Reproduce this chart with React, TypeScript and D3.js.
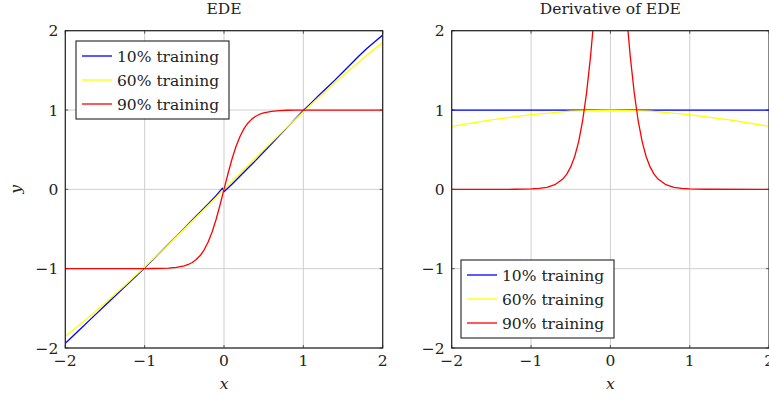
import React from "react";
import * as d3 from "d3";

const xTicks = [-2, -1, 0, 1, 2];
const yTicks = [-2, -1, 0, 1, 2];
const seriesNames = ["10% training", "60% training", "90% training"];
const seriesColors = ["#0000ff", "#ffff00", "#ff0000"];

// EDE curves
const blueX = [-2, -1.9, -1.8, -1.7, -1.6, -1.5, -1.4, -1.3, -1.2, -1.1, -1, -0.9, -0.8, -0.7, -0.6, -0.5, -0.4, -0.3, -0.2, -0.1, -0.02, 0, 0.1, 0.2, 0.3, 0.4, 0.5, 0.6, 0.7, 0.8, 0.9, 1, 1.1, 1.2, 1.3, 1.4, 1.5, 1.6, 1.7, 1.8, 1.9, 2];
const blueY = [-1.94, -1.845, -1.75, -1.655, -1.56, -1.465, -1.37, -1.275, -1.18, -1.085, -0.99, -0.89, -0.79, -0.69, -0.59, -0.49, -0.385, -0.285, -0.185, -0.08, 0.015, -0.03, 0.065, 0.165, 0.265, 0.365, 0.47, 0.575, 0.68, 0.785, 0.89, 0.995, 1.09, 1.19, 1.285, 1.38, 1.48, 1.58, 1.68, 1.775, 1.86, 1.945];

const yellowX = [-2, -1.75, -1.5, -1.25, -1, -0.75, -0.5, -0.25, 0, 0.25, 0.5, 0.75, 1, 1.25, 1.5, 1.75, 2];
const yellowY = [-1.853, -1.649, -1.436, -1.212, -0.98, -0.741, -0.497, -0.25, 0, 0.25, 0.497, 0.741, 0.98, 1.212, 1.436, 1.649, 1.853];

const redX = [-2, -1.2, -1, -0.9, -0.8, -0.7, -0.6, -0.5, -0.45, -0.4, -0.35, -0.3, -0.25, -0.2, -0.15, -0.1, -0.05, 0, 0.05, 0.1, 0.15, 0.2, 0.25, 0.3, 0.35, 0.4, 0.45, 0.5, 0.6, 0.7, 0.8, 0.9, 1, 1.2, 2];
const redY = [-1, -1, -0.999, -0.998, -0.997, -0.993, -0.984, -0.964, -0.947, -0.922, -0.885, -0.834, -0.762, -0.664, -0.537, -0.38, -0.197, 0, 0.197, 0.38, 0.537, 0.664, 0.762, 0.834, 0.885, 0.922, 0.947, 0.964, 0.984, 0.993, 0.997, 0.998, 0.999, 1, 1];

// Derivative curves
const dBlueX = [-2, 2];
const dBlueY = [1, 1];

const dYellowX = [-2, -1.5, -1, -0.5, 0, 0.5, 1, 1.5, 2];
const dYellowY = [0.794, 0.876, 0.942, 0.985, 1, 0.985, 0.942, 0.876, 0.794];

const dRedX = [-2, -1.2, -1, -0.9, -0.8, -0.7, -0.6, -0.55, -0.5, -0.45, -0.4, -0.35, -0.3, -0.25, -0.2, -0.15, -0.1, -0.05, 0, 0.05, 0.1, 0.15, 0.2, 0.25, 0.3, 0.35, 0.4, 0.45, 0.5, 0.55, 0.6, 0.7, 0.8, 0.9, 1, 1.2, 2];
const dRedY = [0, 0.001, 0.005, 0.012, 0.026, 0.059, 0.13, 0.192, 0.283, 0.414, 0.602, 0.865, 1.22, 1.68, 2.24, 2.85, 3.42, 3.84, 4, 3.84, 3.42, 2.85, 2.24, 1.68, 1.22, 0.865, 0.602, 0.414, 0.283, 0.192, 0.13, 0.059, 0.026, 0.012, 0.005, 0.001, 0];

const FONT = "DejaVu Serif";
const FS = 15.5;

type Series = { xs: number[]; ys: number[] };

function Panel({ id, left, title, series, legendPos, showYLabel }: {
  id: string;
  left: number;
  title: string;
  series: Series[];
  legendPos: { x: number; y: number };
  showYLabel: boolean;
}) {
  const top = 30.7;
  const w = 317.4;
  const h = 317.3;
  const x = d3.scaleLinear().domain([-2, 2]).range([left, left + w]);
  const y = d3.scaleLinear().domain([-2, 2]).range([top + h, top]);
  const line = d3.line<[number, number]>().x((d) => x(d[0])).y((d) => y(d[1]));

  const rowH = 24;
  return (
    <g>
      <defs>
        <clipPath id={id}>
          <rect x={left} y={top} width={w} height={h} />
        </clipPath>
      </defs>
      {xTicks.map((t) => (
        <line key={"gx" + t} x1={x(t)} x2={x(t)} y1={top} y2={top + h} stroke="#cfcfcf" strokeWidth={1} />
      ))}
      {yTicks.map((t) => (
        <line key={"gy" + t} x1={left} x2={left + w} y1={y(t)} y2={y(t)} stroke="#cfcfcf" strokeWidth={1} />
      ))}
      {xTicks.map((t) => (
        <g key={"tx" + t}>
          <line x1={x(t)} x2={x(t)} y1={top + h} y2={top + h - 3} stroke="#555" />
          <line x1={x(t)} x2={x(t)} y1={top} y2={top + 3} stroke="#555" />
        </g>
      ))}
      {yTicks.map((t) => (
        <g key={"ty" + t}>
          <line x1={left} x2={left + 3} y1={y(t)} y2={y(t)} stroke="#555" />
          <line x1={left + w} x2={left + w - 3} y1={y(t)} y2={y(t)} stroke="#555" />
        </g>
      ))}
      <g clipPath={`url(#${id})`}>
        {series.map((s, i) => (
          <path
            key={i}
            d={line(s.xs.map((v, j) => [v, s.ys[j]] as [number, number])) || ""}
            fill="none"
            stroke={seriesColors[i]}
            strokeWidth={1.3}
            strokeLinejoin="round"
          />
        ))}
      </g>
      <rect x={left} y={top} width={w} height={h} fill="none" stroke="#222" strokeWidth={1.2} />
      {xTicks.map((t) => (
        <text key={"lx" + t} x={x(t)} y={366} textAnchor="middle" fontFamily={FONT} fontSize={FS} fill="#222">
          {t < 0 ? "\u2212" + Math.abs(t) : t}
        </text>
      ))}
      {yTicks.map((t) => (
        <text key={"ly" + t} x={left - 7} y={y(t)} dy="0.36em" textAnchor="end" fontFamily={FONT} fontSize={FS} fill="#222">
          {t < 0 ? "\u2212" + Math.abs(t) : t}
        </text>
      ))}
      <text x={left + w / 2} y={14} textAnchor="middle" fontFamily={FONT} fontSize={FS} fill="#222">
        {title}
      </text>
      <text x={left + w / 2} y={389} textAnchor="middle" fontFamily={FONT} fontStyle="italic" fontSize={FS} fill="#222">
        x
      </text>
      {showYLabel && (
        <text
          transform={`translate(21,${top + h / 2}) rotate(-90)`}
          textAnchor="middle"
          fontFamily={FONT}
          fontStyle="italic"
          fontSize={FS}
          fill="#222"
        >
          y
        </text>
      )}
      <g transform={`translate(${legendPos.x},${legendPos.y})`}>
        <rect x={0} y={0} width={153} height={78} fill="white" stroke="#222" strokeWidth={1.1} />
        {seriesNames.map((name, i) => (
          <g key={name} transform={`translate(0,${15 + i * rowH})`}>
            <line x1={6} x2={36} y1={0} y2={0} stroke={seriesColors[i]} strokeWidth={1.3} />
            <text x={41} y={0} dy="0.36em" fontFamily={FONT} fontSize={FS} fill="#222">
              {name}
            </text>
          </g>
        ))}
      </g>
    </g>
  );
}

export default function App() {
  const edeSeries: Series[] = [
    { xs: blueX, ys: blueY },
    { xs: yellowX, ys: yellowY },
    { xs: redX, ys: redY },
  ];
  const derivSeries: Series[] = [
    { xs: dBlueX, ys: dBlueY },
    { xs: dYellowX, ys: dYellowY },
    { xs: dRedX, ys: dRedY },
  ];
  return (
    <div style={{ position: "absolute", left: 0, top: 0 }}>
      <svg width={769} height={398} style={{ display: "block", background: "white" }}>
        <Panel id="clipA" left={65.3} title="EDE" series={edeSeries} legendPos={{ x: 76, y: 41 }} showYLabel={true} />
        <Panel id="clipB" left={451.7} title="Derivative of EDE" series={derivSeries} legendPos={{ x: 461, y: 260 }} showYLabel={false} />
      </svg>
    </div>
  );
}
